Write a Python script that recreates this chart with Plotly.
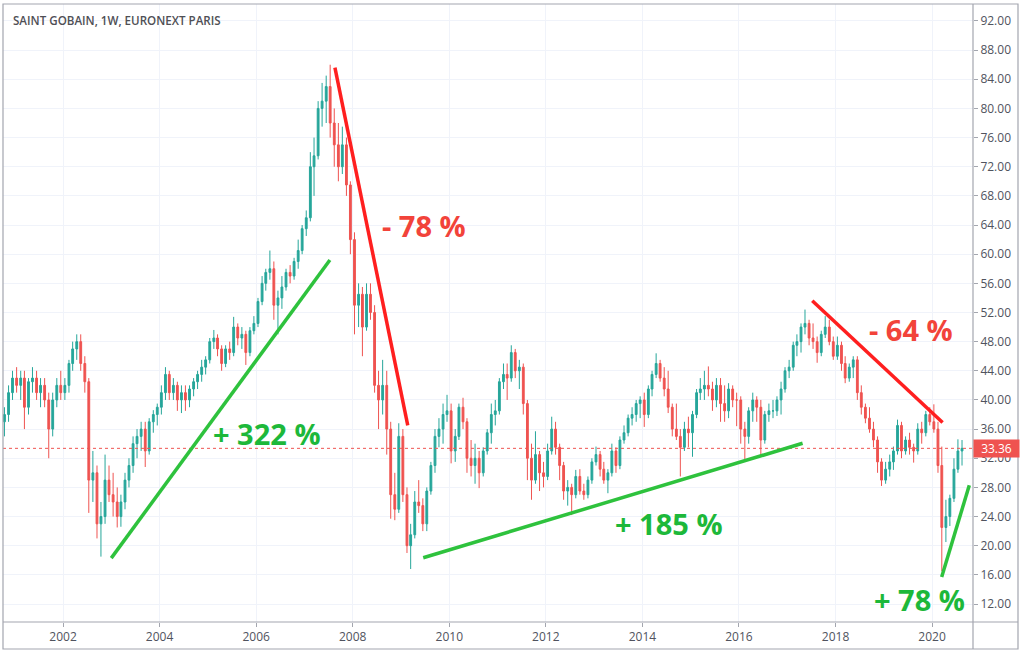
import plotly.graph_objects as go

# ---------------- data (monthly OHLC) ----------------
start_year, start_month, n_months = 2000, 10, 239

opens = [
    37, 38, 41,
    43, 42, 43, 39, 42.5, 43, 41, 42, 40, 36, 40, 42,
    41, 42, 45, 47, 48, 45, 42.5, 29, 30, 23, 24, 29,
    27, 26, 24, 26, 29, 31, 34, 35, 36, 33, 37, 38,
    39, 41, 43.5, 41, 42, 40, 41, 40, 41.5, 42.5, 43.5, 44.5,
    45.5, 48, 48.5, 47, 45, 47, 46.5, 50, 48.5, 49, 46.5, 49.5,
    50.5, 53.5, 56, 57.5, 58, 53, 54, 55.5, 57.5, 57, 59, 60.5,
    63.5, 65, 72, 73.5, 80, 81, 83, 78, 75, 72, 75, 69.5,
    62, 53, 54.5, 50, 54.5, 52, 42, 40, 42, 36, 27, 25,
    35, 27, 20, 21.5, 26, 25.5, 23, 27.5, 31, 35, 36, 38,
    38.5, 33, 35, 39, 37, 32, 31, 32, 30, 33, 35.5, 38,
    38.5, 42.5, 43.5, 43, 46.5, 44, 44.5, 39.5, 32, 29, 32.5, 30,
    29.5, 33, 36, 33.5, 31, 27.5, 28, 27, 29.5, 27.5, 27, 29,
    31.5, 32.5, 30.5, 29, 30, 33, 31, 34.5, 35.5, 37.5, 38, 39.5,
    40, 38, 41.5, 43.5, 45, 43, 41.5, 39, 36, 35, 33.5, 36,
    35.5, 38, 41, 41.5, 42, 41.5, 40, 42, 39.5, 38.5, 41.5, 40,
    40, 36, 35, 38.5, 40, 39, 34.5, 38, 38.5, 38.5, 40, 41.5,
    44, 44.5, 47.5, 48, 50, 50.5, 48.5, 48, 46.5, 49, 50, 48,
    46, 47.5, 45, 43, 44.5, 45.5, 41, 39, 37.5, 36, 34.5, 31.5,
    29, 30.5, 31.5, 33, 36.5, 33, 34.5, 33.5, 33, 36, 35.5, 38,
    37, 36, 31, 22.5, 24, 26.5, 30.5, 33,
]
highs = [
    39, 42, 44,
    44.5, 44, 44, 43, 44.5, 44, 43, 43, 41, 41, 43, 44,
    43, 45.5, 48, 49, 49, 46, 43, 33, 31, 26, 32.5, 31,
    30, 28, 27, 30, 32, 35, 36, 37, 37, 37.5, 38.6, 39.5,
    42, 44.5, 44, 43, 42.5, 42, 42, 42, 43, 44, 45.5, 46,
    48.5, 49.6, 49, 47.5, 47.5, 48, 51.4, 50.5, 50, 49.5, 50, 51.5,
    54, 57, 58, 60.5, 59, 55, 57, 58, 58.5, 59.5, 62, 64,
    66, 74, 76, 81, 83.5, 84.5, 86, 80, 78, 77.5, 76, 70,
    63, 56, 55.5, 56, 56, 53, 44, 45.5, 44, 37, 30, 36.8,
    36, 28, 23, 27.5, 29, 26.5, 28, 31.5, 36, 37.5, 39.5, 40.7,
    39.5, 36, 39.5, 40.3, 37.5, 34.5, 34, 33, 33.5, 36, 39.5, 40,
    43, 45, 45, 47.5, 47, 45.5, 45, 40, 34, 35.7, 33, 31.5,
    34, 37.7, 37, 34, 31.5, 29, 28.5, 30.4, 30.5, 28.5, 29.5, 32,
    33.6, 33, 31.5, 30.5, 34, 33.5, 35, 36.5, 38, 39, 40, 40.5,
    41, 42, 44, 46.4, 45.5, 44.5, 44, 39.5, 39.5, 36, 37, 37.7,
    38.5, 41.5, 43, 44, 44.6, 42.5, 43, 43, 42, 42.3, 42, 41,
    40.5, 37, 39, 41, 40.5, 40, 38.5, 39.5, 40, 40.5, 42.5, 44.5,
    45.5, 48, 49, 50.5, 52.4, 51, 50.5, 48.7, 49.5, 51.5, 51, 48.7,
    48.7, 48, 46, 45, 46, 46, 42, 39.5, 39, 37, 35, 32,
    31.5, 32.5, 33.6, 37.3, 37, 35, 35.5, 34, 36.8, 37, 38.5, 39,
    39.4, 37, 33.6, 26.3, 27, 32, 34.6, 34.5,
]
lows = [
    35, 37, 40,
    41, 40, 36, 38, 41, 40, 39, 39, 32, 35, 39, 40,
    40, 41, 44, 45.5, 44, 41, 24.5, 26, 21, 18.5, 23, 26,
    24, 22.5, 22.6, 25, 28, 30, 32, 33, 30.8, 32.5, 35.5, 36.5,
    38, 40, 40, 40, 38.5, 38.2, 38.5, 39, 40.5, 41.5, 42.5, 43.5,
    45, 47, 46, 44, 44.5, 45.5, 46, 47.5, 47, 44.8, 46, 49,
    50, 53, 55, 56.5, 51, 49, 52.5, 55, 56, 56.5, 58, 60,
    62.5, 64.5, 68, 73, 77.5, 78, 76, 72, 70, 71, 68, 60,
    49, 50, 46, 49.5, 51, 41, 36, 38, 32.5, 23.7, 23.5, 24.5,
    26, 19, 16.8, 21, 24.5, 22, 22, 27, 30, 33.5, 34, 37,
    31.3, 31.5, 34.5, 36, 30, 29.5, 28.5, 27.9, 29.5, 32.5, 34, 36.5,
    38, 41.5, 40, 42.5, 43, 41.5, 38, 29, 26.3, 28.5, 27.5, 28,
    29, 32.5, 32.5, 29, 26.3, 25.5, 24.2, 26.5, 27, 26.3, 26.5, 28.5,
    31, 29.5, 28.5, 27.2, 29.5, 30, 30.5, 34, 35, 36.5, 37, 37.5,
    36.3, 37.5, 40.5, 43, 42.5, 40.5, 38.2, 35, 34.5, 29.5, 33, 33.5,
    32.2, 37.5, 40, 40, 40.5, 38.5, 39, 37, 37, 37.5, 39, 36.4,
    34, 31.8, 34, 37, 37, 32.3, 34, 37, 37.5, 37.8, 38, 41,
    43, 44, 46, 46.5, 49, 47.5, 47, 45.1, 46, 48.5, 47.5, 45.5,
    45.5, 44, 42.3, 42.5, 43, 40, 38, 36.8, 35.5, 33.5, 30, 28.2,
    28.5, 29.5, 30.4, 32.5, 32, 32.5, 32.5, 31.4, 32.5, 34, 35, 36.5,
    35.5, 30, 16.5, 20.5, 22.7, 26, 30, 31,
]
closes = [
    38, 41, 43,
    42, 43, 39, 42.5, 43, 41, 42, 40, 36, 40, 42, 41,
    42, 45, 47, 48, 45, 42.5, 29, 30, 23, 24, 29, 27,
    26, 24, 26, 29, 31, 34, 35, 36, 33, 37, 38, 39,
    41, 43.5, 41, 42, 40, 41, 40, 41.5, 42.5, 43.5, 44.5, 45.5,
    48, 48.5, 47, 45, 47, 46.5, 50, 48.5, 49, 46.5, 49.5, 50.5,
    53.5, 56, 57.5, 58, 53, 54, 55.5, 57.5, 57, 59, 60.5, 63.5,
    65, 72, 73.5, 80, 81, 83, 78, 75, 72, 75, 69.5, 62,
    53, 54.5, 50, 54.5, 52, 42, 40, 42, 36, 27, 25, 35,
    27, 20, 21.5, 26, 25.5, 23, 27.5, 31, 35, 36, 38, 38.5,
    33, 35, 39, 37, 32, 31, 32, 30, 33, 35.5, 38, 38.5,
    42.5, 43.5, 43, 46.5, 44, 44.5, 39.5, 32, 29, 32.5, 30, 29.5,
    33, 36, 33.5, 31, 27.5, 28, 27, 29.5, 27.5, 27, 29, 31.5,
    32.5, 30.5, 29, 30, 33, 31, 34.5, 35.5, 37.5, 38, 39.5, 40,
    38, 41.5, 43.5, 45, 43, 41.5, 39, 36, 35, 33.5, 36, 35.5,
    38, 41, 41.5, 42, 41.5, 40, 42, 39.5, 38.5, 41.5, 40, 40,
    36, 35, 38.5, 40, 39, 34.5, 38, 38.5, 38.5, 40, 41.5, 44,
    44.5, 47.5, 48, 50, 50.5, 48.5, 48, 46.5, 49, 50, 48, 46,
    47.5, 45, 43, 44.5, 45.5, 41, 39, 37.5, 36, 34.5, 31.5, 29,
    30.5, 31.5, 33, 36.5, 33, 34.5, 33.5, 33, 36, 35.5, 38, 37,
    36, 31, 22.5, 24, 26.5, 30.5, 33, 33.36,
]

dates = []
y, m = start_year, start_month
for _ in range(n_months):
    dates.append(f"{y}-{m:02d}-15")
    m += 1
    if m > 12:
        m, y = 1, y + 1

last_price = 33.36

year_ticks = [f"{yr}-01-01" for yr in range(2002, 2021, 2)]
year_labels = [str(yr) for yr in range(2002, 2021, 2)]
price_ticks = list(range(12, 93, 4))

# trend lines drawn on the chart: (date0, price0, date1, price1, colour)
trend_lines = [
    ("2003-01-01", 18.3, "2007-07-13", 59.2, "#2ec23d"),
    ("2007-08-20", 85.6, "2009-02-21", 36.5, "#ff1f1f"),
    ("2009-06-18", 18.35, "2017-04-27", 34.05, "#2ec23d"),
    ("2017-07-09", 53.6, "2020-03-21", 36.9, "#ff1f1f"),
    ("2020-03-14", 15.7, "2020-10-09", 28.3, "#2ec23d"),
]
# percentage labels: (text, date, price, colour)
labels = [
    ("- 78 %", "2009-06-23", 63.9, "#f2433a"),
    ("+ 322 %", "2006-03-24", 35.4, "#1db83a"),
    ("+ 185 %", "2014-07-21", 23.0, "#1db83a"),
    ("- 64 %", "2019-07-25", 49.7, "#f2433a"),
    ("+ 78 %", "2019-10-01", 12.6, "#1db83a"),
]

UP, DOWN = "#26a69a", "#ef5350"
GRID = "#f0f3fa"
FRAME = "#a3a6af"
TXT = "#50535e"

fig = go.Figure()
fig.add_trace(go.Candlestick(
    x=dates, open=opens, high=highs, low=lows, close=closes,
    increasing=dict(line=dict(color=UP, width=1), fillcolor=UP),
    decreasing=dict(line=dict(color=DOWN, width=1), fillcolor=DOWN),
    showlegend=False, hoverinfo="skip",
))

shapes = []
# last price dotted line
shapes.append(dict(type="line", xref="paper", x0=0, x1=1, yref="y",
                   y0=last_price, y1=last_price,
                   line=dict(color=DOWN, width=1, dash="dot")))
for d0, p0, d1, p1, c in trend_lines:
    shapes.append(dict(type="line", xref="x", yref="y", x0=d0, y0=p0,
                       x1=d1, y1=p1, line=dict(color=c, width=3.5)))

# frame and pane separators
right_edge = (1018 - 3) / 970
bottom_edge = (622 - 649) / 618
shapes.append(dict(type="rect", xref="paper", yref="paper", x0=0, x1=right_edge,
                   y0=bottom_edge, y1=1, line=dict(color=FRAME, width=1.2),
                   fillcolor="rgba(0,0,0,0)", layer="above"))
shapes.append(dict(type="line", xref="paper", yref="paper", x0=1, x1=1,
                   y0=bottom_edge, y1=1, line=dict(color=FRAME, width=1.2)))
shapes.append(dict(type="line", xref="paper", yref="paper", x0=0, x1=right_edge,
                   y0=0, y1=0, line=dict(color=FRAME, width=1.2)))

annotations = []
for text, d, p, c in labels:
    annotations.append(dict(text=text, x=d, y=p, xref="x", yref="y",
                            showarrow=False, xanchor="center", yanchor="middle",
                            font=dict(family="Open Sans", size=29, color=c, weight=700)))
annotations.append(dict(text="SAINT GOBAIN, 1W, EURONEXT PARIS",
                        xref="paper", yref="paper", x=(11 - 3) / 970,
                        y=(622 - 21) / 618, xanchor="left", yanchor="middle",
                        showarrow=False,
                        font=dict(family="Open Sans", size=11.6, color="#4f4f55", weight=600)))
annotations.append(dict(text=f"{last_price:.2f}", xref="paper", yref="y", x=1.0,
                        y=last_price, xanchor="left", yanchor="middle",
                        showarrow=False, bgcolor=DOWN, width=43, height=15,
                        borderpad=1, align="center",
                        font=dict(family="Open Sans", size=12, color="white")))

fig.update_layout(
    width=1024, height=652,
    margin=dict(l=3, r=51, t=4, b=30),
    paper_bgcolor="white", plot_bgcolor="white",
    shapes=shapes, annotations=annotations,
    showlegend=False,
    xaxis=dict(
        type="date", range=["2000-10-04", "2020-11-06"],
        rangeslider=dict(visible=False),
        tickvals=year_ticks, ticktext=year_labels,
        showgrid=True, gridcolor=GRID, gridwidth=1,
        ticks="outside", ticklen=4, tickcolor=FRAME,
        tickfont=dict(family="Open Sans", size=12, color=TXT),
        showline=False, zeroline=False,
    ),
    yaxis=dict(
        side="right", range=[9.53, 94.33],
        tickvals=price_ticks, ticktext=[f"{v:.2f}" for v in price_ticks],
        showgrid=True, gridcolor=GRID, gridwidth=1,
        ticks="outside", ticklen=4, tickcolor=FRAME,
        tickfont=dict(family="Open Sans", size=12, color=TXT),
        showline=False, zeroline=False,
    ),
)

fig.write_html("out.html")
